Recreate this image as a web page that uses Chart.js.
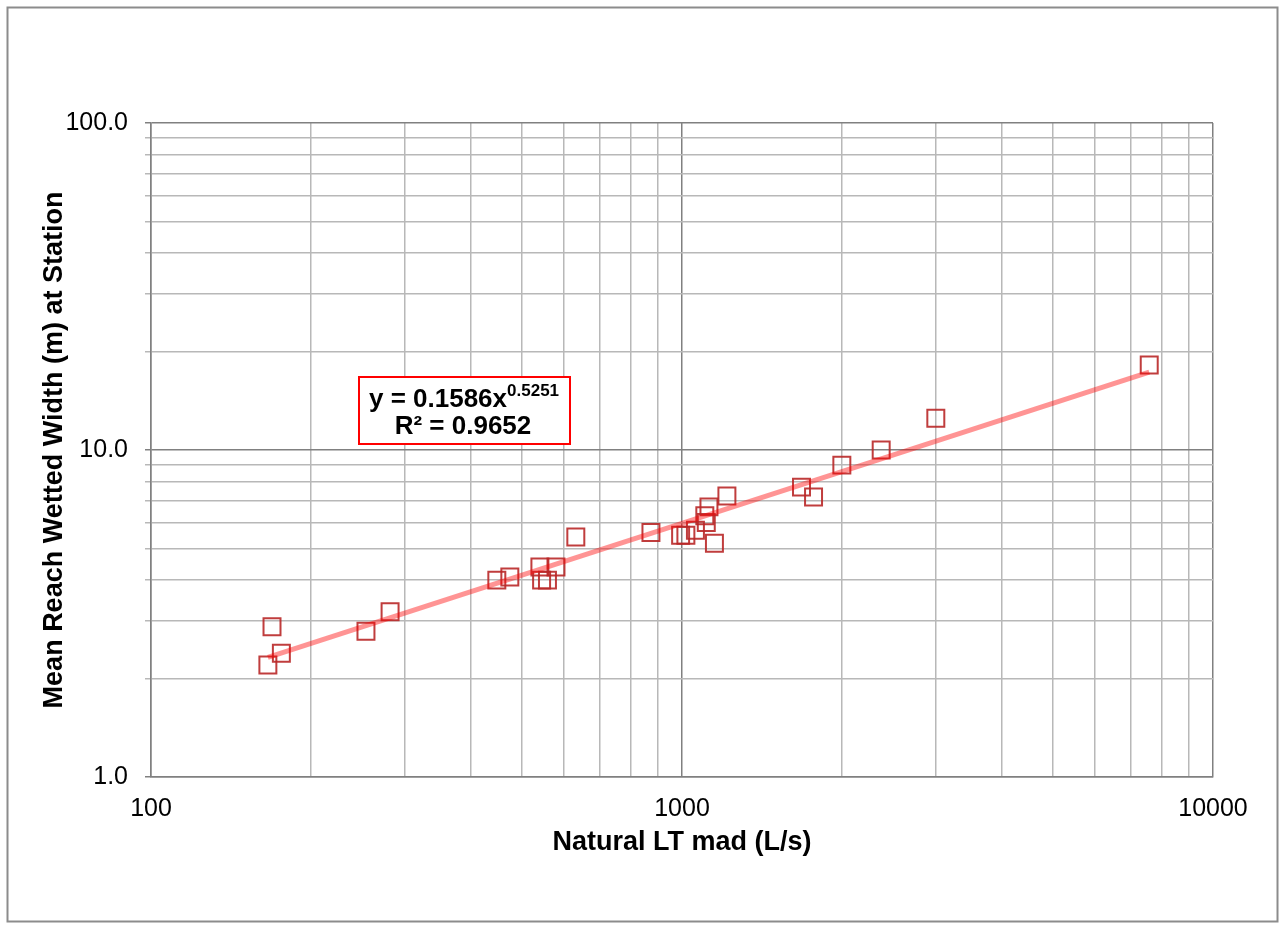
<!DOCTYPE html>
<html>
<head>
<meta charset="utf-8">
<script src="https://cdn.jsdelivr.net/npm/chart.js@4"></script>
<style>
    body { margin: 0; background: #fff; }
    canvas { display: block; }
</style>
</head>
<body>
<canvas id="scatterChart" width="1282" height="929"></canvas>
<script>
// Du lieu doc tu hinh
const flowLs = [166, 169, 176, 254, 282, 448, 474, 540, 544, 558, 579, 631, 874, 994, 1017, 1060, 1104, 1111, 1124, 1151, 1215, 1679, 1769, 2000, 2372, 3006, 7584];
const widthM = [2.20, 2.88, 2.39, 2.79, 3.20, 4.00, 4.09, 4.39, 4.00, 4.00, 4.39, 5.42, 5.59, 5.49, 5.49, 5.68, 6.29, 6.00, 6.70, 5.19, 7.23, 7.70, 7.18, 8.99, 10.0, 12.5, 18.2];

// Duong xu huong (hai dau mut)
const trendX = [166, 7584];
const trendY = [2.32, 17.3];

// Vach chia
const xTickValues = [100, 200, 300, 400, 500, 600, 700, 800, 900, 1000, 2000, 3000, 4000, 5000, 6000, 7000, 8000, 9000, 10000];
const xTickLabels = ['100', '1000', '10000'];
const yTickValues = [1, 2, 3, 4, 5, 6, 7, 8, 9, 10, 20, 30, 40, 50, 60, 70, 80, 90, 100];
const yTickLabels = ['1.0', '10.0', '100.0'];

const fontFamily = '"Liberation Sans", Arial, sans-serif';

document.addEventListener('DOMContentLoaded', function() {
    initializeChart();
});

function isMajor(v) {
    return v === 1 || v === 10 || v === 100 || v === 1000 || v === 10000;
}

const frameAndLabel = {
    id: 'frameAndLabel',
    afterDraw(chart) {
        const ctx = chart.ctx;
        ctx.save();
        // khung ngoai
        ctx.strokeStyle = '#8c8c8c';
        ctx.lineWidth = 2;
        ctx.strokeRect(7.5, 7.5, 1270, 914);

        // hop phuong trinh
        ctx.fillStyle = '#ffffff';
        ctx.fillRect(358, 376, 213, 68);
        ctx.strokeStyle = '#ff0000';
        ctx.lineWidth = 2;
        ctx.strokeRect(359, 377, 211, 67);

        ctx.fillStyle = '#000';
        ctx.textBaseline = 'alphabetic';
        ctx.textAlign = 'left';
        const main = 'y = 0.1586x';
        ctx.font = 'bold 17px ' + fontFamily;
        const supW = ctx.measureText('0.5251').width;
        ctx.font = 'bold 26px ' + fontFamily;
        const mainW = ctx.measureText(main).width;
        const x0 = 464 - (mainW + supW) / 2;
        ctx.fillText(main, x0, 407);
        ctx.font = 'bold 17px ' + fontFamily;
        ctx.fillText('0.5251', x0 + mainW, 396);
        ctx.font = 'bold 26px ' + fontFamily;
        ctx.textAlign = 'center';
        ctx.fillText('R\u00B2 = 0.9652', 463, 434);
        ctx.restore();
    }
};

function initializeChart() {
    const ctx = document.getElementById('scatterChart').getContext('2d');
    const chart = new Chart(ctx, {
        type: 'scatter',
        data: {
            datasets: [{
                label: 'Trend',
                data: trendX.map((x, i) => ({ x: x, y: trendY[i] })),
                showLine: true,
                borderColor: 'rgba(255, 0, 0, 0.42)',
                borderWidth: 5,
                pointRadius: 0,
                pointHoverRadius: 0,
                fill: false
            }, {
                label: 'Stations',
                data: flowLs.map((x, i) => ({ x: x, y: widthM[i] })),
                pointStyle: 'rect',
                pointRadius: 12,
                pointHoverRadius: 12,
                borderColor: 'rgba(185, 40, 40, 0.9)',
                borderWidth: 2,
                backgroundColor: 'rgba(0,0,0,0)'
            }]
        },
        options: {
            responsive: false,
            animation: false,
            devicePixelRatio: 1,
            layout: {
                padding: { left: 0, top: 123, right: 69, bottom: 0 }
            },
            scales: {
                x: {
                    type: 'logarithmic',
                    min: 100,
                    max: 10000,
                    afterBuildTicks: function(scale) {
                        scale.ticks = xTickValues.map(v => ({ value: v }));
                    },
                    afterFit: function(scale) {
                        scale.height = 152;
                    },
                    ticks: {
                        autoSkip: false,
                        maxRotation: 0,
                        padding: 17,
                        color: '#000',
                        font: { family: fontFamily, size: 25 },
                        callback: function(value) {
                            const s = String(value);
                            return xTickLabels.includes(s) ? s : '';
                        }
                    },
                    grid: {
                        drawTicks: false,
                        color: c => (c.tick && isMajor(c.tick.value)) ? '#808080' : '#b8b8b8',
                        lineWidth: 1.5
                    },
                    border: { display: true, color: '#808080', width: 1.5 },
                    title: {
                        display: true,
                        text: 'Natural LT mad (L/s)',
                        color: '#000',
                        font: { family: fontFamily, size: 27, weight: 'bold' },
                        padding: { top: 0, bottom: 70 }
                    }
                },
                y: {
                    type: 'logarithmic',
                    min: 1,
                    max: 100,
                    afterBuildTicks: function(scale) {
                        scale.ticks = yTickValues.map(v => ({ value: v }));
                    },
                    afterFit: function(scale) {
                        scale.width = 151;
                    },
                    ticks: {
                        autoSkip: false,
                        padding: 17,
                        color: '#000',
                        font: { family: fontFamily, size: 25 },
                        callback: function(value) {
                            const s = Number(value).toFixed(1);
                            return yTickLabels.includes(s) ? s : '';
                        }
                    },
                    grid: {
                        drawTicks: true,
                        tickLength: 6,
                        color: c => (c.tick && isMajor(c.tick.value)) ? '#808080' : '#b8b8b8',
                        lineWidth: 1.5
                    },
                    border: { display: true, color: '#808080', width: 1.5 },
                    title: {
                        display: true,
                        text: 'Mean Reach Wetted Width (m) at Station',
                        color: '#000',
                        font: { family: fontFamily, size: 27, weight: 'bold' },
                        padding: { top: 38, bottom: 0 }
                    }
                }
            },
            plugins: {
                legend: { display: false },
                tooltip: { enabled: false }
            }
        },
        plugins: [frameAndLabel]
    });
}
</script>
</body>
</html>
